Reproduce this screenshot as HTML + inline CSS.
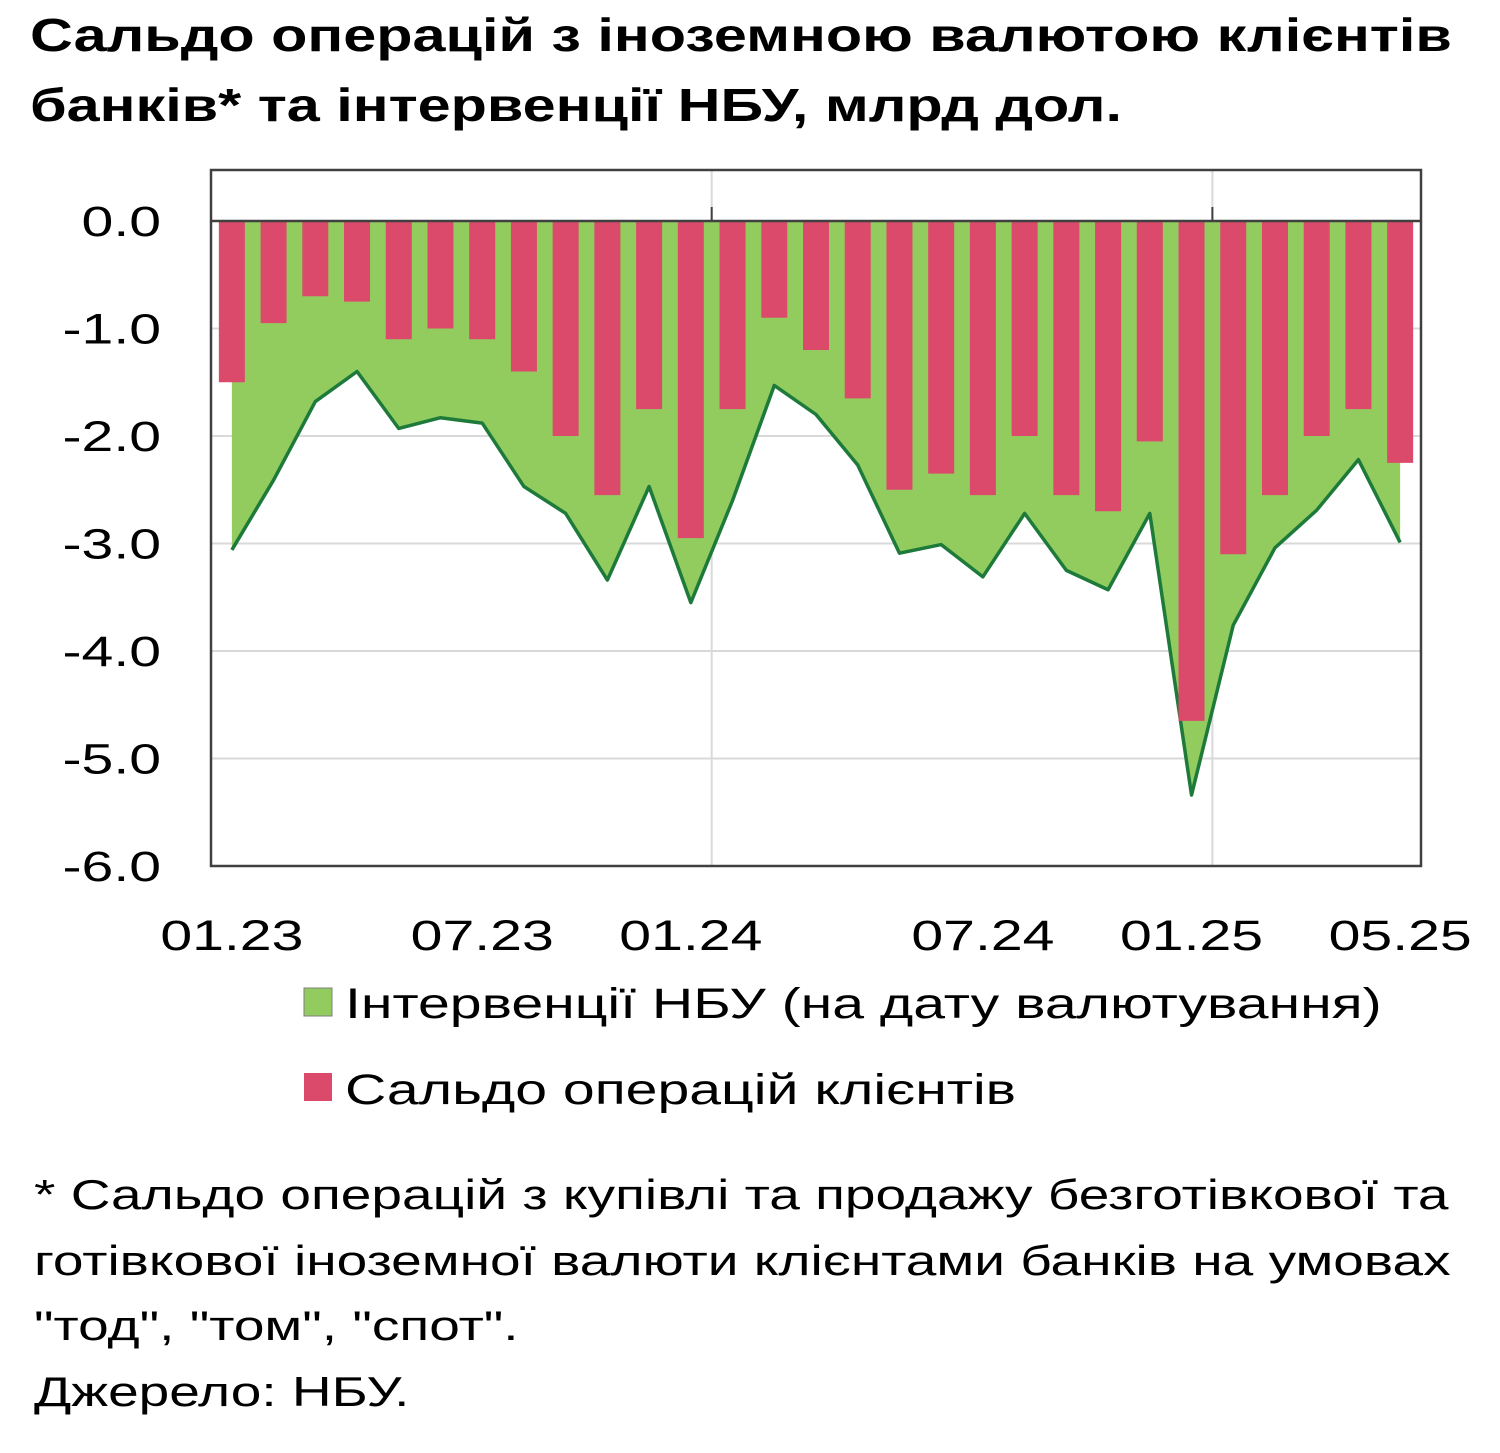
<!DOCTYPE html>
<html><head><meta charset="utf-8"><style>
body{margin:0;background:#fff;width:1500px;height:1453px;overflow:hidden;font-family:"Liberation Sans",sans-serif;}
.t{position:absolute;white-space:nowrap;color:#000;transform-origin:0 0}
</style></head><body>
<div class="t" style="left:30px;top:0px;font-size:46px;font-weight:bold;line-height:70px;transform:scaleX(1.29)">Сальдо операцій з іноземною валютою клієнтів<br>банків* та інтервенції НБУ, млрд дол.</div>
<svg id="c" width="1500" height="1453" style="position:absolute;left:0;top:0"></svg>
<div class="t" style="left:34px;top:1162px;font-size:42px;line-height:65.5px;transform:scaleX(1.31)">* Сальдо операцій з купівлі та продажу безготівкової та<br>готівкової іноземної валюти клієнтами банків на умовах<br>"тод", "том", "спот".<br>Джерело: НБУ.</div>
<script>
const categories=["01.23","02.23","03.23","04.23","05.23","06.23","07.23","08.23","09.23","10.23","11.23","01.24","02.24","03.24","04.24","05.24","06.24","07.24","08.24","09.24","10.24","11.24","12.24","01.25","02.25","03.25","04.25","04.25b","05.25"];
const clientBalance=[-1.5,-0.95,-0.7,-0.75,-1.1,-1.0,-1.1,-1.4,-2.0,-2.55,-1.75,-2.95,-1.75,-0.9,-1.2,-1.65,-2.5,-2.35,-2.55,-2.0,-2.55,-2.7,-2.05,-4.65,-3.1,-2.55,-2.0,-1.75,-2.25];
const interventions=[-3.06,-2.41,-1.68,-1.40,-1.93,-1.83,-1.88,-2.47,-2.72,-3.34,-2.47,-3.55,-2.60,-1.53,-1.80,-2.27,-3.09,-3.01,-3.31,-2.72,-3.25,-3.43,-2.72,-5.34,-3.76,-3.04,-2.69,-2.22,-2.99];
const yTicks=[0,-1,-2,-3,-4,-5,-6];
const yTickLabels=["0.0","-1.0","-2.0","-3.0","-4.0","-5.0","-6.0"];
const xLabelIdx=[0,6,11,18,23,28];
const xLabels=["01.23","07.23","01.24","07.24","01.25","05.25"];
const vGridIdx=[12,24];
const svg=document.getElementById('c');const NS='http://www.w3.org/2000/svg';
const L=211,R=1421,T=170,B=866;
const y=v=>221+(-v)*107.5;
const step=(R-L)/categories.length;
const xc=i=>L+step*(i+0.5);
const SX=1.33;
function mk(t,a,name){const e=document.createElementNS(NS,t);for(const k in a)e.setAttribute(k,a[k]);


svg.appendChild(e);return e;}
function txt(x,yy,anchor,s,name){const e=mk('text',{x:0,y:0,'text-anchor':anchor,'font-size':43,'font-family':'Liberation Sans, sans-serif',transform:'translate('+x+','+yy+') scale('+SX+',1)'},name);e.textContent=s;return e;}
yTicks.forEach((v,i)=>{if(v<0&&v>-6)mk('line',{x1:L,x2:R,y1:y(v),y2:y(v),stroke:'#d9d9d9','stroke-width':2},'h-gridline');
txt(161,y(v)+15,'end',yTickLabels[i],'y-tick-label');});
vGridIdx.forEach(i=>{mk('line',{x1:L+step*i,x2:L+step*i,y1:T,y2:B,stroke:'#d9d9d9','stroke-width':2},'v-gridline');
mk('line',{x1:L+step*i,x2:L+step*i,y1:207,y2:221,stroke:'#404040','stroke-width':2},'x-tick');});
let d='M'+xc(0)+','+y(0);interventions.forEach((v,i)=>d+=' L'+xc(i)+','+y(v));d+=' L'+xc(interventions.length-1)+','+y(0)+'Z';
mk('path',{d:d,fill:'#92cc5e'},'interventions-area');
let ld='';interventions.forEach((v,i)=>ld+=(i?' L':'M')+xc(i)+','+y(v));
mk('path',{d:ld,fill:'none',stroke:'#1e7a3a','stroke-width':3.5,'stroke-linejoin':'round'},'interventions-line');
clientBalance.forEach((v,i)=>mk('rect',{x:xc(i)-13,y:y(0),width:26,height:y(v)-y(0),fill:'#db4a6b'},'client-balance-bar'));
mk('line',{x1:L,x2:R,y1:221,y2:221,stroke:'#404040','stroke-width':2.5},'zero-axis');
mk('rect',{x:L,y:T,width:R-L,height:B-T,fill:'none',stroke:'#404040','stroke-width':2.5},'plot-frame');
xLabelIdx.forEach((ix,k)=>txt(xc(ix),950,'middle',xLabels[k],'x-tick-label'));
mk('rect',{x:304,y:988,width:28,height:28,fill:'#92cc5e',stroke:'#808080','stroke-width':1},'legend-swatch-interventions');
txt(345,1018,'start','Інтервенції НБУ (на дату валютування)','legend-label-interventions');
mk('rect',{x:304,y:1073,width:28,height:28,fill:'#db4a6b'},'legend-swatch-clients');
txt(345,1104,'start','Сальдо операцій клієнтів','legend-label-clients');
</script>
</body></html>
